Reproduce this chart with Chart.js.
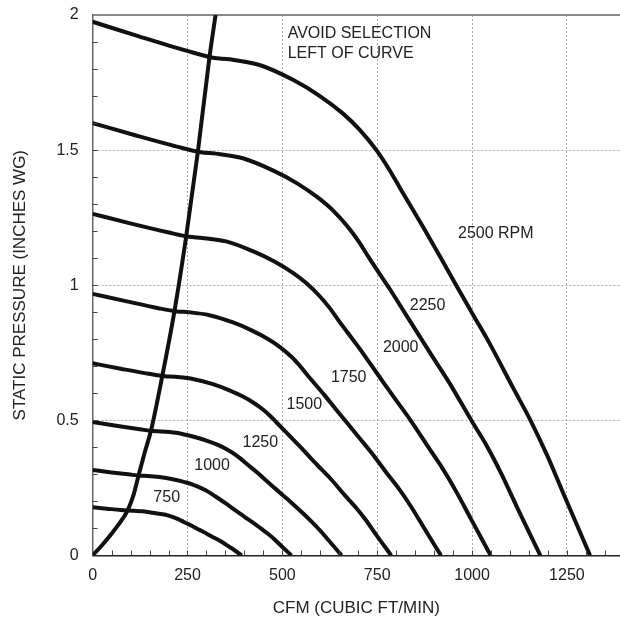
<!DOCTYPE html>
<html>
<head>
<meta charset="utf-8">
<script src="https://cdn.jsdelivr.net/npm/chart.js@4.4.0/dist/chart.umd.min.js"></script>
<style>
  html, body { margin: 0; padding: 0; background: #fff; overflow: hidden; }
  #wrap { width: 620px; height: 620px; }
</style>
</head>
<body>
<div id="wrap"><canvas id="fan" width="620" height="620"></canvas></div>
<script>
// fan curves, CFM vs static pressure (inches WG)
var cfm2500 = [0, 124, 247, 317, 361, 440, 528, 599, 660, 704, 748, 780, 810, 871, 916, 960, 1003, 1048, 1109, 1154, 1198, 1245, 1311];
var sp2500 = [1.975, 1.92, 1.868, 1.842, 1.836, 1.815, 1.76, 1.70, 1.635, 1.575, 1.50, 1.432, 1.36, 1.215, 1.105, 0.995, 0.89, 0.78, 0.618, 0.5, 0.37, 0.215, 0];

var cfm2250 = [0, 112, 222, 285, 325, 396, 475, 539, 594, 634, 673, 702, 729, 784, 824, 864, 903, 943, 998, 1039, 1078, 1120, 1180];
var sp2250 = [1.60, 1.555, 1.513, 1.492, 1.487, 1.47, 1.425, 1.377, 1.324, 1.276, 1.215, 1.16, 1.10, 0.984, 0.895, 0.806, 0.72, 0.632, 0.5, 0.405, 0.30, 0.174, 0];

var cfm2000 = [0, 99, 198, 254, 289, 352, 422, 479, 528, 563, 598, 624, 648, 697, 733, 768, 802, 838, 887, 923, 958, 996, 1049];
var sp2000 = [1.264, 1.229, 1.196, 1.179, 1.175, 1.162, 1.126, 1.088, 1.046, 1.008, 0.96, 0.917, 0.87, 0.778, 0.707, 0.637, 0.57, 0.5, 0.396, 0.32, 0.237, 0.138, 0];

var cfm1750 = [0, 87, 173, 222, 253, 308, 370, 419, 462, 493, 524, 546, 567, 610, 641, 672, 702, 734, 776, 808, 839, 872, 918];
var sp1750 = [0.968, 0.941, 0.915, 0.903, 0.90, 0.889, 0.862, 0.833, 0.801, 0.772, 0.735, 0.702, 0.666, 0.595, 0.541, 0.488, 0.436, 0.382, 0.303, 0.245, 0.181, 0.105, 0];

var cfm1500 = [0, 74, 148, 190, 217, 264, 317, 359, 396, 422, 449, 468, 486, 523, 550, 576, 602, 629, 665, 692, 719, 747, 787];
var sp1500 = [0.711, 0.691, 0.672, 0.663, 0.661, 0.653, 0.634, 0.612, 0.588, 0.567, 0.54, 0.516, 0.49, 0.437, 0.398, 0.358, 0.32, 0.281, 0.222, 0.18, 0.133, 0.077, 0];

var cfm1250 = [0, 62, 124, 159, 181, 220, 264, 300, 330, 352, 374, 390, 405, 436, 458, 480, 502, 524, 555, 577, 599, 623, 656];
var sp1250 = [0.494, 0.48, 0.467, 0.46, 0.459, 0.454, 0.44, 0.425, 0.409, 0.394, 0.375, 0.358, 0.34, 0.304, 0.276, 0.249, 0.222, 0.195, 0.155, 0.125, 0.093, 0.054, 0];

var cfm1000 = [0, 50, 99, 127, 144, 176, 211, 240, 264, 299, 324, 348, 366, 384, 401, 419, 444, 462, 479, 498, 524];
var sp1000 = [0.316, 0.307, 0.299, 0.295, 0.294, 0.29, 0.282, 0.272, 0.262, 0.24, 0.218, 0.195, 0.177, 0.159, 0.142, 0.125, 0.099, 0.08, 0.06, 0.034, 0];

var cfm750 = [0, 37, 74, 95, 108, 132, 158, 180, 198, 224, 243, 261, 275, 288, 301, 314, 333, 346, 359, 374, 393];
var sp750 = [0.178, 0.173, 0.168, 0.166, 0.165, 0.163, 0.158, 0.153, 0.148, 0.135, 0.122, 0.11, 0.099, 0.09, 0.08, 0.07, 0.056, 0.045, 0.033, 0.019, 0];

// "avoid selection" boundary
var cfmSurge = [0, 20, 44, 66, 92, 108, 121, 137, 154, 184, 216, 247, 277, 308, 324];
var spSurge = [0, 0.03, 0.07, 0.11, 0.166, 0.225, 0.296, 0.38, 0.463, 0.667, 0.907, 1.185, 1.49, 1.845, 2.0];

var xTicks = [0, 250, 500, 750, 1000, 1250];
var yTicks = [0, 0.5, 1, 1.5, 2];

var curveText = ['750', '1000', '1250', '1500', '1750', '2000', '2250', '2500 RPM'];
var curveTextCfm = [160, 268, 395, 511, 628, 765, 836, 963];
var curveTextSp = [0.215, 0.333, 0.419, 0.559, 0.659, 0.77, 0.926, 1.19];

var noteText = ['AVOID SELECTION', 'LEFT OF CURVE'];
var noteCfm = [514, 514];
var noteSp = [1.933, 1.859];

var FONT = 'Liberation Sans, Arial, sans-serif';

function pts(xs, ys) {
    return xs.map(function (x, i) { return { x: x, y: ys[i] }; });
}

function curve(xs, ys) {
    return {
        data: pts(xs, ys),
        borderColor: '#111',
        borderWidth: 4,
        pointRadius: 0,
        fill: false,
        cubicInterpolationMode: 'monotone'
    };
}

var minorTicks = {
    id: 'minorTicks',
    afterDraw: function (chart) {
        var ctx = chart.ctx, a = chart.chartArea;
        var xs = chart.scales.x, ys = chart.scales.y;
        ctx.save();
        ctx.strokeStyle = '#444';
        ctx.lineWidth = 1;
        ctx.beginPath();
        for (var v = 50; v < xs.max; v += 50) {
            var px = Math.round(xs.getPixelForValue(v)) + 0.5;
            ctx.moveTo(px, a.bottom);
            ctx.lineTo(px, a.bottom - 5);
        }
        for (var k = 1; k < 20; k++) {
            var py = Math.round(ys.getPixelForValue(k / 10)) + 0.5;
            ctx.moveTo(a.left, py);
            ctx.lineTo(a.left + 5, py);
        }
        ctx.stroke();
        ctx.restore();
    }
};

var curveLabels = {
    id: 'curveLabels',
    afterDatasetsDraw: function (chart) {
        var ctx = chart.ctx, xs = chart.scales.x, ys = chart.scales.y;
        ctx.save();
        ctx.fillStyle = '#222';
        ctx.font = '16px ' + FONT;
        ctx.textAlign = 'left';
        ctx.textBaseline = 'middle';
        curveText.forEach(function (t, i) {
            ctx.fillText(t, xs.getPixelForValue(curveTextCfm[i]), ys.getPixelForValue(curveTextSp[i]));
        });
        noteText.forEach(function (t, i) {
            ctx.fillText(t, xs.getPixelForValue(noteCfm[i]), ys.getPixelForValue(noteSp[i]));
        });
        ctx.restore();
    }
};

var ctx = document.getElementById('fan').getContext('2d');
var fanChart = new Chart(ctx, {
    type: 'line',
    data: {
        datasets: [
            curve(cfm2500, sp2500),
            curve(cfm2250, sp2250),
            curve(cfm2000, sp2000),
            curve(cfm1750, sp1750),
            curve(cfm1500, sp1500),
            curve(cfm1250, sp1250),
            curve(cfm1000, sp1000),
            curve(cfm750, sp750),
            curve(cfmSurge, spSurge)
        ]
    },
    options: {
        responsive: false,
        animation: false,
        layout: { padding: { top: 15, right: 0, bottom: 0, left: 0 } },
        plugins: {
            legend: { display: false },
            tooltip: { enabled: false }
        },
        scales: {
            x: {
                type: 'linear',
                min: 0,
                max: 1390,
                afterBuildTicks: function (axis) {
                    axis.ticks = xTicks.map(function (v) { return { value: v }; });
                },
                ticks: {
                    color: '#222',
                    font: { family: FONT, size: 16 },
                    padding: 11,
                    maxRotation: 0,
                    callback: function (v) { return String(v); }
                },
                grid: {
                    color: function (c) { return c.tick && c.tick.value === 0 ? 'rgba(0,0,0,0)' : '#aaa'; },
                    lineWidth: 1,
                    drawTicks: false
                },
                border: { display: true, color: '#222', width: 1.5, dash: [2, 2] },
                title: {
                    display: true,
                    text: 'CFM (CUBIC FT/MIN)',
                    color: '#222',
                    font: { family: FONT, size: 17 },
                    padding: { top: 2, bottom: 1 }
                }
            },
            x2: {
                type: 'linear',
                position: 'top',
                min: 0,
                max: 1390,
                ticks: { display: false },
                grid: { display: false, drawTicks: false },
                border: { display: true, color: '#888', width: 2 }
            },
            y: {
                min: 0,
                max: 2,
                afterBuildTicks: function (axis) {
                    axis.ticks = yTicks.map(function (v) { return { value: v }; });
                },
                afterFit: function (axis) {
                    axis.paddingTop = 0;
                    axis.paddingBottom = 0;
                },
                ticks: {
                    color: '#222',
                    font: { family: FONT, size: 16 },
                    padding: 14,
                    callback: function (v) { return String(v); }
                },
                grid: {
                    color: function (c) {
                        var v = c.tick ? c.tick.value : 0;
                        return v === 0 || v === 2 ? 'rgba(0,0,0,0)' : '#aaa';
                    },
                    lineWidth: 1,
                    drawTicks: false
                },
                border: { display: true, color: '#666', width: 1.5, dash: [2, 2] },
                title: {
                    display: true,
                    text: 'STATIC PRESSURE (INCHES WG)',
                    color: '#222',
                    font: { family: FONT, size: 17 },
                    padding: { top: 10, bottom: 12 }
                }
            }
        }
    },
    plugins: [minorTicks, curveLabels]
});
</script>
</body>
</html>
